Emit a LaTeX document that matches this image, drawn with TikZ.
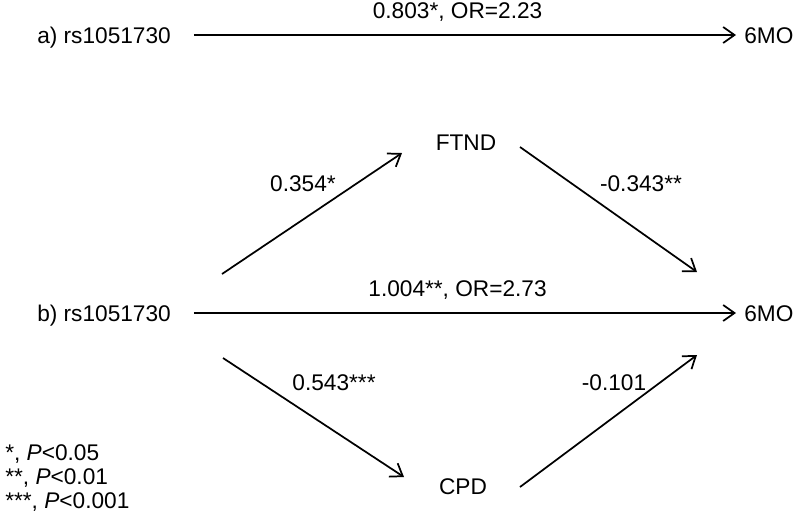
\documentclass[tikz,border=0pt]{standalone}
\usepackage{fontspec}
\setmainfont{Liberation Sans}
\usetikzlibrary{arrows.meta, positioning, calc}

\tikzset{
  var/.style={font=\fontsize{17}{20}\selectfont, inner sep=0pt, text height=12.2pt, text depth=0pt},
  coef/.style={font=\fontsize{17}{20}\selectfont, inner sep=0pt, text height=12.2pt, text depth=0pt},
  link/.style={line width=1.3pt, -{Straight Barb[length=8.5pt, width=12pt]}}
}

\begin{document}
\begin{tikzpicture}[x=0.75pt, y=-0.75pt]
    \useasboundingbox (0,0) rectangle (800,519);

    % a) Direct path
    \node[var, anchor=west] (rsa) at (37,35) {a) rs1051730};
    \node[var, anchor=west] (moa) at (744,35) {6MO};
    \draw[link, shorten <=17pt, shorten >=6pt] (rsa.east) -- (moa.west)
        node[coef, midway, above=11.5pt] (coefa) {0.803*, OR=2.23};

    % b) Mediation model
    \node[var, anchor=west] (rsb) at (37,313) {b) rs1051730};
    \node[var, anchor=west] (mob) at (744,313) {6MO};
    \node[var] (ftnd) at (466,142) {FTND};
    \node[var] (cpd) at (463,486) {CPD};

    % Arrow ends
    \coordinate (b-up) at (222,274);
    \coordinate (ftnd-in) at (402,153);
    \coordinate (ftnd-out) at (520,147);
    \coordinate (mo-top) at (697,272);
    \coordinate (b-down) at (223,358);
    \coordinate (cpd-in) at (404,477);
    \coordinate (cpd-out) at (520,487);
    \coordinate (mo-bot) at (697,355);

    % Direct effect
    \draw[link, shorten <=17pt, shorten >=6pt] (rsb.east) -- (mob.west)
        node[coef, midway, above=11.5pt] (coefb) {1.004**, OR=2.73};

    % Indirect effects
    \draw[link] (b-up) -- (ftnd-in);
    \draw[link] (ftnd-out) -- (mo-top);
    \draw[link] (b-down) -- (cpd-in);
    \draw[link] (cpd-out) -- (mo-bot);
    \node[coef] (c-ftnd) at (303,183) {0.354*};
    \node[coef] (c-ftndmo) at (641,183) {-0.343**};
    \node[coef] (c-cpd) at (334,382) {0.543***};
    \node[coef] (c-cpdmo) at (614,382) {-0.101};

    % Legend
    \node[var, anchor=west] (sig1) at (5,452) {*, \textit{P}<0.05};
    \node[var, anchor=west] (sig2) at (5,476) {**, \textit{P}<0.01};
    \node[var, anchor=west] (sig3) at (5,500) {***, \textit{P}<0.001};
\end{tikzpicture}
\end{document}
